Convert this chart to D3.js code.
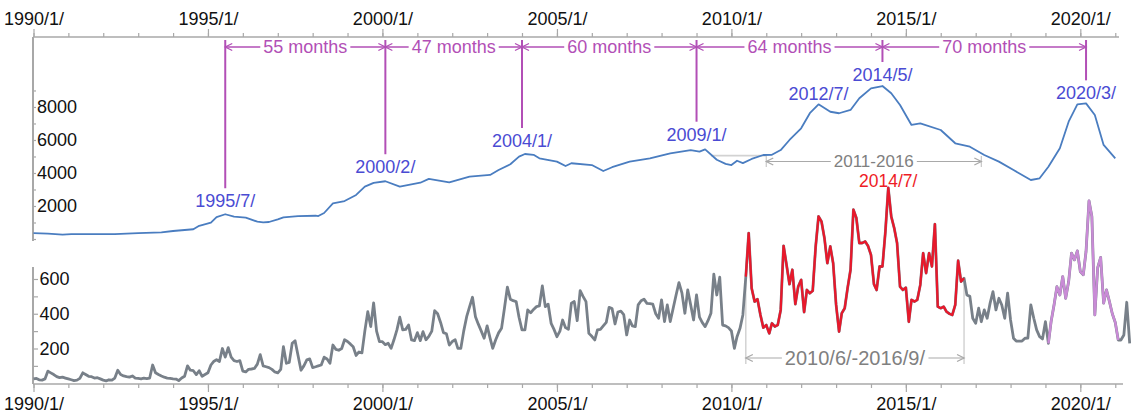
<!DOCTYPE html>
<html>
<head>
<meta charset="utf-8">
<script src="https://d3js.org/d3.v7.min.js"></script>
<style>
body { margin: 0; background: #fff; }
svg { display: block; font-family: "Liberation Sans Narrow", "Arial Narrow", "Liberation Sans", Arial, sans-serif; }
.axis text { fill: #111; font-size: 18px; }
.axis line { stroke: #a8a8a8; stroke-width: 1.2; }
</style>
</head>
<body>
<svg id="chart" width="1139" height="414"></svg>
<script>
// upper series
const topDates = ["1990-01","1990-06","1990-11","1991-02","1991-06","1992-05","1993-01","1993-09","1994-01","1994-08","1994-10","1995-02","1995-04","1995-07","1995-10","1996-02","1996-06","1996-08","1996-10","1997-01","1997-03","1997-08","1998-02","1998-03","1998-05","1998-08","1998-12","1999-04","1999-07","1999-10","2000-02","2000-07","2001-02","2001-05","2001-12","2002-07","2003-02","2003-05","2003-09","2003-12","2004-02","2004-05","2004-07","2005-01","2005-04","2005-06","2006-01","2006-05","2006-08","2007-02","2007-09","2008-04","2008-11","2009-02","2009-04","2009-08","2009-11","2010-01","2010-03","2010-05","2010-08","2010-12","2011-03","2011-06","2011-09","2012-01","2012-04","2012-07","2012-11","2013-02","2013-06","2013-09","2014-01","2014-05","2014-08","2014-11","2015-03","2015-06","2016-01","2016-06","2016-11","2017-04","2017-09","2018-02","2018-08","2018-11","2019-02","2019-06","2019-09","2019-12","2020-03","2020-06","2020-09","2021-01"];
const topValues = [350,330,270,300,290,300,360,400,485,590,800,990,1330,1500,1350,1290,1050,1010,1030,1190,1310,1390,1410,1390,1575,2160,2300,2670,3170,3400,3500,3170,3410,3640,3430,3780,3880,4180,4530,4990,5150,5100,4890,4690,4420,4590,4480,4120,4350,4690,4890,5190,5390,5290,5435,4800,4550,4480,4740,4600,4850,5090,5100,5390,6000,6710,7620,8160,7710,7620,7820,8530,9130,9270,8830,8120,6910,7010,6605,5800,5590,5090,4690,4180,3575,3680,4380,5500,7110,8160,8220,7510,5700,4890];

// lower series, one value per month from lowStart
const lowStart = "1990-01";
const lowValues = [
  25,28,20,18,25,70,60,50,38,32,35,30,
  25,20,15,18,28,60,50,40,38,30,32,25,
  18,14,20,18,30,75,50,42,38,35,42,30,
  28,25,30,27,30,105,60,50,42,35,30,28,
  25,24,15,30,40,100,75,72,50,72,40,50,
  60,105,125,135,125,200,150,205,150,130,125,130,
  70,65,80,82,85,110,165,100,95,90,80,65,
  60,80,210,115,120,230,245,160,75,100,135,140,
  90,95,100,105,150,140,115,220,195,190,200,250,
  240,225,210,160,180,175,300,412,326,462,300,239,
  239,222,230,201,250,307,380,307,310,335,249,245,
  291,245,297,250,270,300,418,400,350,291,285,220,
  240,250,201,201,300,383,440,495,383,340,300,259,
  330,260,201,250,290,316,430,553,484,475,470,380,
  307,307,422,405,425,441,445,560,441,455,345,310,
  268,300,364,320,310,461,470,360,533,500,470,287,
  270,249,307,310,330,350,437,430,341,410,415,395,
  278,364,330,326,451,475,484,460,458,455,400,374,
  480,355,451,355,430,508,579,520,403,537,450,364,
  508,380,350,326,360,403,628,508,610,335,330,320,
  301,201,268,316,393,614,864,547,470,484,393,320,
  335,287,345,326,335,422,791,682,570,653,455,556,
  595,409,537,518,532,787,960,931,835,691,787,691,
  451,297,403,432,547,653,999,951,807,807,816,790,
  739,570,537,672,672,874,1124,960,893,807,556,537,
  550,354,480,470,480,566,749,634,749,672,916,441,
  432,441,412,400,393,451,705,585,604,508,500,374,
  345,432,354,422,374,461,527,422,489,450,374,518,
  364,259,243,243,243,259,260,451,374,307,268,255,
  354,230,354,450,556,508,614,489,585,749,710,762,
  643,624,758,1050,960,393,666,724,461,537,470,400,
  350,249,249,278,466,230
];
const redRange = ["2010-06", "2016-09"];
const purpleRange = ["2019-02", "2021-02"];

// annotations
const peakDates = ["1995-07","2000-02","2004-01","2009-01","2014-05","2020-03"];
const peakLabels = ["1995/7/","2000/2/","2004/1/","2009/1/","2014/5/","2020/3/"];
const peakValues = [1500,3500,5150,5350,9270,8220];
const gapLabels = ["55 months","47 months","60 months","64 months","70 months"];
const extraPeak = {date: "2012-07", label: "2012/7/", value: 8160};
const spanTop = {from: "2011-01", to: "2017-03", label: "2011-2016", level: 5050, levelFrom: "2009-06"};
const spanLow = {label: "2010/6/-2016/9/"};
const redPeak = {date: "2014-07", label: "2014/7/"};
const topTicks = d3.range(0, 10000, 1000);
const lowTicks = d3.range(100, 700, 100);

const parse = d3.timeParse("%Y-%m");
const svg = d3.select("#chart");
svg.append("rect").attr("width", 1139).attr("height", 414).attr("fill", "#fff");

const x = d3.scaleTime().domain([parse("1990-01"), parse("2021-01")]).range([33.5, 33.5 + 372 * 2.908]);
const yTop = d3.scaleLinear().domain([0, 12240]).range([239, 37]);
const yLow = d3.scaleLinear().domain([0, 669]).range([383.25, 267]);

const topData = topDates.map((d, i) => ({date: parse(d), value: topValues[i]}));
const lowData = lowValues.map((v, i) => ({date: d3.timeMonth.offset(parse(lowStart), i), value: v}));
const inRange = (r) => (d) => d.date >= parse(r[0]) && d.date <= parse(r[1]);
const lowAt = (s) => lowData.find(d => +d.date === +parse(s));

const years = d3.range(1990, 2022).map(y => new Date(y, 0, 1));
const fives = years.filter(d => d.getFullYear() % 5 === 0);
const yearFmt = d => d.getFullYear() + "/1/";

// ---- axes ----
const axisCol = "#a8a8a8";
svg.append("g").attr("class", "axis").attr("transform", "translate(0,37)")
  .call(d3.axisTop(x).tickValues(years).tickSize(4).tickFormat(""))
  .call(g => g.select(".domain").remove());
svg.append("g").attr("class", "axis").attr("transform", "translate(0,37)")
  .call(d3.axisTop(x).tickValues(fives).tickSize(8).tickPadding(4).tickFormat(yearFmt))
  .call(g => g.select(".domain").remove());
svg.append("line").attr("x1", 33).attr("x2", 1119).attr("y1", 37).attr("y2", 37)
  .attr("stroke", axisCol).attr("stroke-width", 1.5);

svg.append("g").attr("class", "axis").attr("transform", "translate(0,384)")
  .call(d3.axisBottom(x).tickValues(years).tickSize(4).tickFormat(""))
  .call(g => g.select(".domain").remove());
svg.append("g").attr("class", "axis").attr("transform", "translate(0,384)")
  .call(d3.axisBottom(x).tickValues(fives).tickSize(8).tickPadding(5).tickFormat(yearFmt))
  .call(g => g.select(".domain").remove());
svg.append("line").attr("x1", 33).attr("x2", 1123).attr("y1", 384).attr("y2", 384)
  .attr("stroke", axisCol).attr("stroke-width", 1.5);

svg.append("g").attr("class", "axis").attr("transform", "translate(33,0)")
  .call(d3.axisRight(yTop).tickValues(topTicks).tickSize(3).tickPadding(1)
    .tickFormat(d => d > 0 && d % 2000 === 0 ? d : ""))
  .call(g => g.select(".domain").remove());
svg.append("line").attr("x1", 33).attr("x2", 33).attr("y1", 37).attr("y2", 241)
  .attr("stroke", axisCol).attr("stroke-width", 2);

svg.append("g").attr("class", "axis").attr("transform", "translate(33,0)")
  .call(d3.axisRight(yLow).tickValues(lowTicks).tickSize(5).tickPadding(1.5)
    .tickFormat(d => d % 200 === 0 ? d : ""))
  .call(g => g.select(".domain").remove());
svg.append("line").attr("x1", 33).attr("x2", 33).attr("y1", 267).attr("y2", 384)
  .attr("stroke", axisCol).attr("stroke-width", 2);

// ---- helpers ----
function chevron(g, xp, y, dir, col) {
  g.append("path")
    .attr("d", `M${xp + dir * 7},${y - 3.5}L${xp},${y}L${xp + dir * 7},${y + 3.5}`)
    .attr("fill", "none").attr("stroke", col).attr("stroke-width", 1.3);
}
function span(x1, x2, y, label, col, size, textCol) {
  const g = svg.append("g");
  g.append("line").attr("x1", x1).attr("x2", x2).attr("y1", y).attr("y2", y)
    .attr("stroke", col).attr("stroke-width", col === "#a9a9a9" ? 1.2 : 1.6);
  chevron(g, x1, y, 1, col);
  chevron(g, x2, y, -1, col);
  const t = g.append("text").attr("x", (x1 + x2) / 2).attr("y", y).attr("dy", "0.35em")
    .attr("text-anchor", "middle").attr("font-size", size).attr("fill", textCol).text(label);
  const b = t.node().getBBox();
  g.insert("rect", "text").attr("x", b.x - 3).attr("y", b.y + 2).attr("width", b.width + 6)
    .attr("height", b.height - 4).attr("fill", "#fff");
  return g;
}

// ---- purple annotations (top) ----
const purple = "#b24fb6", blueText = "#4a4bd3", grayText = "#808080", grayLine = "#a9a9a9";
const labelLift = [7, 8, 7, 10, 5, 4];
peakDates.forEach((d, i) => {
  const px = x(parse(d));
  const base = yTop(peakValues[i]) - labelLift[i];
  svg.append("line").attr("x1", px).attr("x2", px).attr("y1", 40).attr("y2", base - 19)
    .attr("stroke", purple).attr("stroke-width", 2);
  svg.append("text").attr("x", px).attr("y", base).attr("text-anchor", "middle")
    .attr("font-size", 18).attr("fill", blueText).text(peakLabels[i]);
});
svg.append("text").attr("x", x(parse(extraPeak.date))).attr("y", yTop(extraPeak.value) - 4)
  .attr("text-anchor", "middle").attr("font-size", 18).attr("fill", blueText).text(extraPeak.label);
gapLabels.forEach((lab, i) => {
  span(x(parse(peakDates[i])), x(parse(peakDates[i + 1])), 47, lab, purple, 18, purple);
});

// ---- gray spans ----
svg.append("line").attr("x1", x(parse(spanTop.levelFrom))).attr("x2", x(parse(spanTop.from)))
  .attr("y1", yTop(spanTop.level)).attr("y2", yTop(spanTop.level))
  .attr("stroke", "#d2d2d2").attr("stroke-width", 1.6);
const sx1 = x(parse(spanTop.from)), sx2 = x(parse(spanTop.to));
[sx1, sx2].forEach(px => svg.append("line").attr("x1", px).attr("x2", px).attr("y1", 156).attr("y2", 167)
  .attr("stroke", "#c8c8c8").attr("stroke-width", 1.2));
span(sx1, sx2, 161.5, spanTop.label, grayLine, 17, grayText);

const lx1 = x(parse(redRange[0])), lx2 = x(parse(redRange[1]));
[redRange[0], redRange[1]].forEach(s => {
  const px = x(parse(s));
  svg.append("line").attr("x1", px).attr("x2", px).attr("y1", yLow(lowAt(s).value)).attr("y2", 364)
    .attr("stroke", "#c8c8c8").attr("stroke-width", 1.2);
});
span(lx1, lx2, 358, spanLow.label, grayLine, 20, grayText);

// ---- series ----
const lineTop = d3.line().x(d => x(d.date)).y(d => yTop(d.value));
const lineLow = d3.line().x(d => x(d.date)).y(d => yLow(d.value));

svg.append("path").datum(topData).attr("d", lineTop)
  .attr("fill", "none").attr("stroke", "#4a7dc0").attr("stroke-width", 1.8).attr("stroke-linejoin", "round");
svg.append("path").datum(lowData).attr("d", lineLow)
  .attr("fill", "none").attr("stroke", "#788089").attr("stroke-width", 2.8).attr("stroke-linejoin", "round");
svg.append("path").datum(lowData.filter(inRange(redRange))).attr("d", lineLow)
  .attr("fill", "none").attr("stroke", "#e8182b").attr("stroke-width", 2.3).attr("stroke-linejoin", "round");
svg.append("path").datum(lowData.filter(inRange(purpleRange))).attr("d", lineLow)
  .attr("fill", "none").attr("stroke", "#c98bd6").attr("stroke-width", 2.4).attr("stroke-linejoin", "round");

svg.append("text").attr("x", x(parse(redPeak.date))).attr("y", yLow(lowAt(redPeak.date).value) - 1)
  .attr("text-anchor", "middle").attr("font-size", 17.5).attr("fill", "#ee1c25").text(redPeak.label);
</script>
</body>
</html>
